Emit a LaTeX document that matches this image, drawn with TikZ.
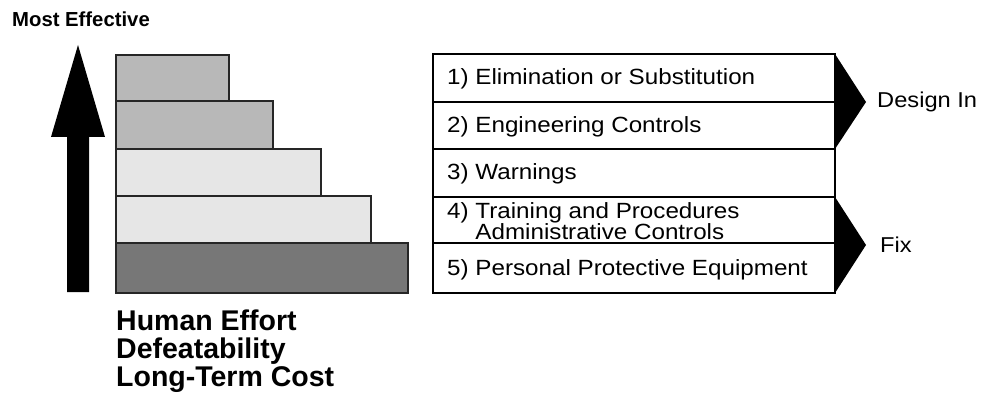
\documentclass[tikz,border=0pt]{standalone}
\usepackage{fontspec}
\setmainfont{Liberation Sans}
\newfontfamily\rowfont[FakeStretch=1.1]{Liberation Sans}
\definecolor{barA}{HTML}{B8B8B8}
\definecolor{barB}{HTML}{E6E6E6}
\definecolor{barC}{HTML}{777777}
\begin{document}
\begin{tikzpicture}[x=1pt,y=-1pt,
  bar/.style={draw=black!85,line width=1.6pt},
  rowline/.style={draw=black,line width=1.1pt},
  rowtext/.style={anchor=base west,inner sep=0pt,font=\rowfont\fontsize{22}{19}\selectfont},
  sidetext/.style={anchor=west,inner sep=0pt,font=\rowfont\fontsize{21.5}{21.5}\selectfont},
  boldtext/.style={anchor=base west,inner sep=0pt,font=\bfseries\fontsize{28.5}{28.5}\selectfont}]
\useasboundingbox (0,0) rectangle (982,393);
% title
\node[anchor=base west,inner sep=0pt,font=\bfseries\fontsize{20.3}{20.3}\selectfont] (title) at (12,27) {Most Effective};
% big arrow
\fill[black] (78,45) -- (105,137) -- (89,137) -- (89,292) -- (67,292) -- (67,137) -- (51,137) -- cycle;
% bars
\draw[bar,fill=barC] (116,243) rectangle (408,293);
\draw[bar,fill=barB] (116,196) rectangle (371,243);
\draw[bar,fill=barB] (116,149) rectangle (321,196);
\draw[bar,fill=barA] (116,101) rectangle (273,149);
\draw[bar,fill=barA] (116,55) rectangle (229,101);
% bottom text
\node[boldtext] (h1) at (116,330) {Human Effort};
\node[boldtext] (h2) at (116,358) {Defeatability};
\node[boldtext] (h3) at (116,386) {Long-Term Cost};
% table
\draw[rowline] (433,54) rectangle (835,293);
\draw[rowline] (433,102) -- (835,102);
\draw[rowline] (433,149) -- (835,149);
\draw[rowline] (433,197) -- (835,197);
\draw[rowline] (433,243) -- (835,243);
\node[rowtext] (r1) at (447,85) {1) Elimination or Substitution};
\node[rowtext] (r2) at (447,132) {2) Engineering Controls};
\node[rowtext] (r3) at (447,179) {3) Warnings};
\node[rowtext] (r4) at (447,218) {4) Training and Procedures};
\node[rowtext] (r4b) at (447,239) {\phantom{4) }Administrative Controls};
\node[rowtext] (r5) at (447,275) {5) Personal Protective Equipment};
% triangles
\fill[black] (835,54) -- (866,102) -- (835,149) -- cycle;
\fill[black] (835,197) -- (866,245) -- (835,293) -- cycle;
\node[sidetext] (design) at (877,102) {Design In};
\node[sidetext] (fix) at (880,245) {Fix};
\end{tikzpicture}
\end{document}
